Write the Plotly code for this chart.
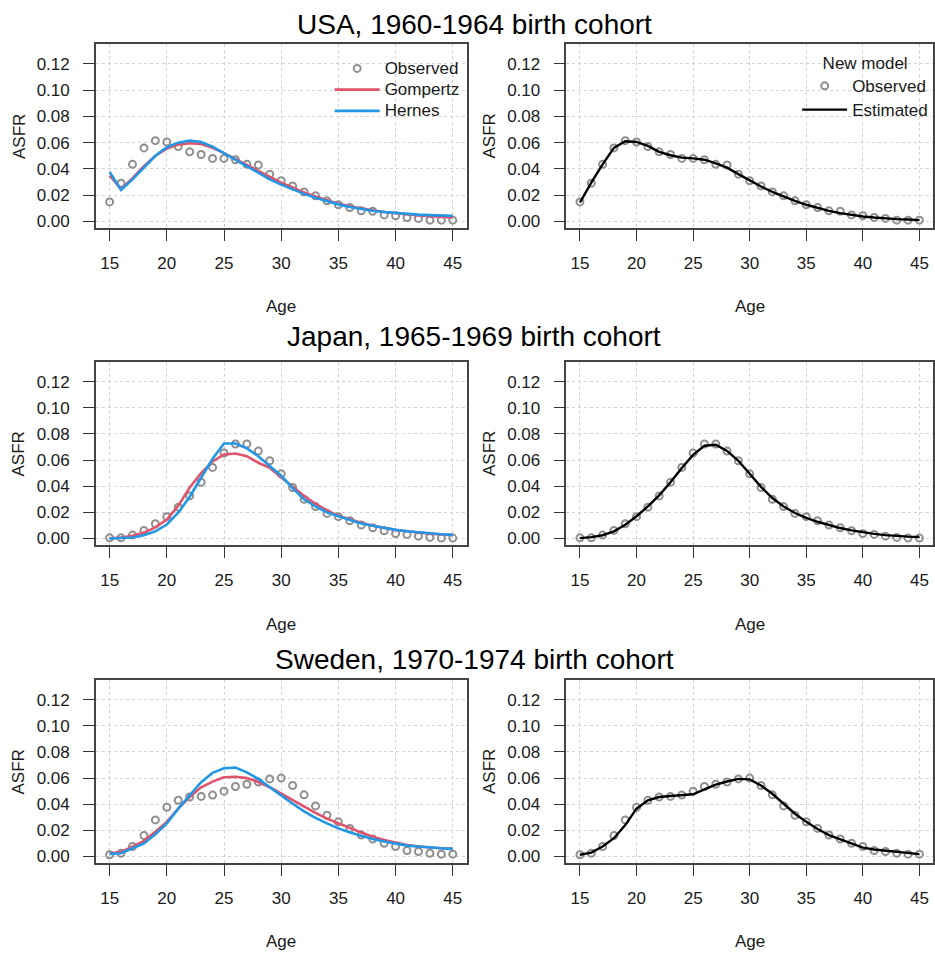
import plotly.graph_objects as go

# ---------------- data ----------------
ages = list(range(15, 46))

usa_observed = [0.0149, 0.0291, 0.0435, 0.0560, 0.0615, 0.0605, 0.0570, 0.0530, 0.0510, 0.0480,
                0.0480, 0.0470, 0.0435, 0.0430, 0.0360, 0.0310, 0.0270, 0.0225, 0.0195, 0.0157,
                0.0127, 0.0106, 0.0081, 0.0078, 0.0050, 0.0043, 0.0030, 0.0023, 0.0010, 0.0010, 0.0010]
usa_gompertz = [0.0350, 0.0246, 0.0330, 0.0420, 0.0500, 0.0555, 0.0585, 0.0595, 0.0590, 0.0560,
                0.0520, 0.0475, 0.0430, 0.0380, 0.0335, 0.0295, 0.0258, 0.0220, 0.0190, 0.0160,
                0.0135, 0.0115, 0.0098, 0.0085, 0.0072, 0.0062, 0.0053, 0.0046, 0.0040, 0.0035, 0.0030]
usa_hernes = [0.0377, 0.0240, 0.0320, 0.0410, 0.0500, 0.0565, 0.0600, 0.0615, 0.0605, 0.0570,
              0.0520, 0.0470, 0.0420, 0.0370, 0.0320, 0.0280, 0.0243, 0.0210, 0.0180, 0.0152,
              0.0130, 0.0110, 0.0095, 0.0082, 0.0072, 0.0064, 0.0057, 0.0052, 0.0048, 0.0045, 0.0043]
usa_estimated = [0.0144, 0.0296, 0.0435, 0.0560, 0.0610, 0.0605, 0.0575, 0.0530, 0.0504, 0.0486,
                 0.0480, 0.0470, 0.0443, 0.0410, 0.0360, 0.0310, 0.0266, 0.0225, 0.0190, 0.0157,
                 0.0127, 0.0101, 0.0081, 0.0063, 0.0048, 0.0038, 0.0030, 0.0023, 0.0018, 0.0015, 0.0010]

japan_observed = [0.0005, 0.0005, 0.0026, 0.0062, 0.0113, 0.0167, 0.0240, 0.0326, 0.0430, 0.0544,
                  0.0654, 0.0723, 0.0723, 0.0669, 0.0595, 0.0495, 0.0390, 0.0300, 0.0244, 0.0192,
                  0.0167, 0.0136, 0.0103, 0.0082, 0.0059, 0.0038, 0.0031, 0.0018, 0.0008, 0.0003, 0.0003]
japan_gompertz = [0.0002, 0.0008, 0.0020, 0.0045, 0.0085, 0.0145, 0.0250, 0.0390, 0.0500, 0.0590,
                  0.0643, 0.0650, 0.0630, 0.0580, 0.0540, 0.0470, 0.0400, 0.0325, 0.0265, 0.0215,
                  0.0175, 0.0145, 0.0120, 0.0098, 0.0080, 0.0066, 0.0055, 0.0045, 0.0037, 0.0031, 0.0026]
japan_hernes = [0.0000, 0.0002, 0.0008, 0.0025, 0.0055, 0.0107, 0.0197, 0.0320, 0.0465, 0.0610,
                0.0727, 0.0727, 0.0690, 0.0630, 0.0555, 0.0480, 0.0385, 0.0300, 0.0245, 0.0200,
                0.0170, 0.0140, 0.0115, 0.0097, 0.0080, 0.0066, 0.0055, 0.0046, 0.0039, 0.0033, 0.0028]
japan_estimated = [0.0003, 0.0010, 0.0025, 0.0055, 0.0105, 0.0170, 0.0245, 0.0330, 0.0430, 0.0540,
                   0.0640, 0.0710, 0.0718, 0.0670, 0.0595, 0.0495, 0.0395, 0.0310, 0.0245, 0.0195,
                   0.0158, 0.0128, 0.0102, 0.0080, 0.0062, 0.0047, 0.0035, 0.0026, 0.0019, 0.0014, 0.0011]

sweden_observed = [0.0013, 0.0025, 0.0076, 0.0160, 0.0280, 0.0376, 0.0430, 0.0455, 0.0460, 0.0470,
                   0.0500, 0.0536, 0.0553, 0.0570, 0.0594, 0.0600, 0.0543, 0.0472, 0.0387, 0.0316,
                   0.0265, 0.0215, 0.0164, 0.0134, 0.0101, 0.0076, 0.0045, 0.0038, 0.0025, 0.0018, 0.0018]
sweden_gompertz = [0.0025, 0.0035, 0.0076, 0.0120, 0.0190, 0.0265, 0.0366, 0.0455, 0.0530, 0.0573,
                   0.0606, 0.0610, 0.0600, 0.0570, 0.0530, 0.0480, 0.0430, 0.0380, 0.0334, 0.0290,
                   0.0253, 0.0215, 0.0184, 0.0152, 0.0126, 0.0106, 0.0088, 0.0076, 0.0068, 0.0063, 0.0058]
sweden_hernes = [0.0020, 0.0025, 0.0063, 0.0100, 0.0170, 0.0253, 0.0366, 0.0467, 0.0568, 0.0640,
                 0.0675, 0.0680, 0.0644, 0.0594, 0.0530, 0.0467, 0.0404, 0.0346, 0.0296, 0.0253,
                 0.0215, 0.0184, 0.0157, 0.0134, 0.0114, 0.0096, 0.0083, 0.0076, 0.0068, 0.0063, 0.0058]
sweden_estimated = [0.0013, 0.0030, 0.0076, 0.0140, 0.0240, 0.0366, 0.0430, 0.0455, 0.0463, 0.0467,
                    0.0476, 0.0513, 0.0550, 0.0574, 0.0594, 0.0590, 0.0543, 0.0480, 0.0400, 0.0327,
                    0.0265, 0.0210, 0.0164, 0.0134, 0.0101, 0.0068, 0.0053, 0.0043, 0.0033, 0.0023, 0.0018]

titles = ["USA, 1960-1964 birth cohort", "Japan, 1965-1969 birth cohort", "Sweden, 1970-1974 birth cohort"]
x_ticks = [15, 20, 25, 30, 35, 40, 45]
y_ticks = [0.00, 0.02, 0.04, 0.06, 0.08, 0.10, 0.12]
y_tick_labels = ["0.00", "0.02", "0.04", "0.06", "0.08", "0.10", "0.12"]

countries = [
    (usa_observed, usa_gompertz, usa_hernes, usa_estimated),
    (japan_observed, japan_gompertz, japan_hernes, japan_estimated),
    (sweden_observed, sweden_gompertz, sweden_hernes, sweden_estimated),
]

# ---------------- style / layout ----------------
W, H = 935, 953
FONT = "Liberation Sans, Arial, sans-serif"
OBS_COLOR = "#8f8f8f"
RED = "#DF536B"
BLUE = "#2297E6"

col_px = [(96, 467), (567, 934)]
row_px = [(44, 229), (363, 547), (682, 866)]
title_y = [25, 338, 662]
age_y = [307, 626, 944]
asfr_x = [19, 490]


def leg_name(s):
    return f'<span style="font-size:17px">{s}</span>'


fig = go.Figure()
annotations = []
layout_axes = {}

for r in range(3):
    obs, gomp, hern, est = countries[r]
    for c in range(2):
        k = r * 2 + c + 1
        xa = "x" if k == 1 else f"x{k}"
        ya = "y" if k == 1 else f"y{k}"
        leg = "legend" if c == 0 else "legend2"
        show = (r == 0)
        fig.add_trace(go.Scatter(
            x=ages, y=obs, mode="markers", name=leg_name("Observed"),
            marker=dict(symbol="circle-open", size=7, color=OBS_COLOR, line=dict(width=2, color=OBS_COLOR)),
            xaxis=xa, yaxis=ya, showlegend=show, legend=leg, hoverinfo="skip"))
        if c == 0:
            fig.add_trace(go.Scatter(
                x=ages, y=gomp, mode="lines", name=leg_name("Gompertz"),
                line=dict(color=RED, width=2.6), xaxis=xa, yaxis=ya,
                showlegend=show, legend=leg, hoverinfo="skip"))
            fig.add_trace(go.Scatter(
                x=ages, y=hern, mode="lines", name=leg_name("Hernes"),
                line=dict(color=BLUE, width=2.6), xaxis=xa, yaxis=ya,
                showlegend=show, legend=leg, hoverinfo="skip"))
        else:
            fig.add_trace(go.Scatter(
                x=ages, y=est, mode="lines", name=leg_name("Estimated"),
                line=dict(color="black", width=2.4), xaxis=xa, yaxis=ya,
                showlegend=show, legend=leg, hoverinfo="skip"))

        x0, x1 = col_px[c]
        y0, y1 = row_px[r]
        axis_common = dict(
            showline=True, mirror=True, linecolor="#444", linewidth=1.5,
            ticks="outside", ticklen=11, tickwidth=1.3, tickcolor="#333",
            showgrid=True, gridcolor="#d2d2d2", griddash="dot", gridwidth=1,
            zeroline=False, tickfont=dict(family=FONT, size=17, color="#1a1a1a"),
            fixedrange=True,
        )
        layout_axes["xaxis" if k == 1 else f"xaxis{k}"] = dict(
            axis_common, domain=[x0 / W, x1 / W], range=[13.8, 46.2],
            tickvals=x_ticks, anchor=ya, ticklabelstandoff=8)
        layout_axes["yaxis" if k == 1 else f"yaxis{k}"] = dict(
            axis_common, domain=[1 - y1 / H, 1 - y0 / H], range=[-0.0052, 0.1352],
            tickvals=y_ticks, ticktext=y_tick_labels, anchor=xa, ticklabelstandoff=10)

        annotations.append(dict(
            text="Age", xref="paper", yref="paper", x=(x0 + x1) / 2 / W, y=1 - age_y[r] / H,
            showarrow=False, font=dict(family=FONT, size=17, color="#1a1a1a"),
            xanchor="center", yanchor="middle"))
        annotations.append(dict(
            text="ASFR", xref="paper", yref="paper", x=asfr_x[c] / W, y=1 - (y0 + y1) / 2 / H,
            showarrow=False, textangle=-90, font=dict(family=FONT, size=17, color="#1a1a1a"),
            xanchor="center", yanchor="middle"))

    annotations.append(dict(
        text=titles[r], xref="paper", yref="paper", x=475 / W, y=1 - title_y[r] / H,
        showarrow=False, font=dict(family=FONT, size=28, color="black"),
        xanchor="center", yanchor="middle"))

fig.update_layout(
    width=W, height=H,
    margin=dict(l=0, r=0, t=0, b=0),
    paper_bgcolor="white", plot_bgcolor="white",
    font=dict(family=FONT, color="#1a1a1a"),
    annotations=annotations,
    legend=dict(x=330 / W, y=1 - 53 / H, xanchor="left", yanchor="top",
                bgcolor="rgba(0,0,0,0)", borderwidth=0, itemwidth=45,
                font=dict(family=FONT, size=14, color="#1a1a1a"), tracegroupgap=0),
    legend2=dict(x=798 / W, y=1 - 47 / H, xanchor="left", yanchor="top",
                 bgcolor="rgba(0,0,0,0)", borderwidth=0, itemwidth=45,
                 title=dict(text="New model", side="top center",
                            font=dict(family=FONT, size=17, color="#1a1a1a")),
                 font=dict(family=FONT, size=16, color="#1a1a1a"), tracegroupgap=0),
    **layout_axes,
)

fig.write_html("out.html",
               config={"displayModeBar": False},
               post_script="document.body.style.margin='0px';document.body.style.overflow='hidden';")
